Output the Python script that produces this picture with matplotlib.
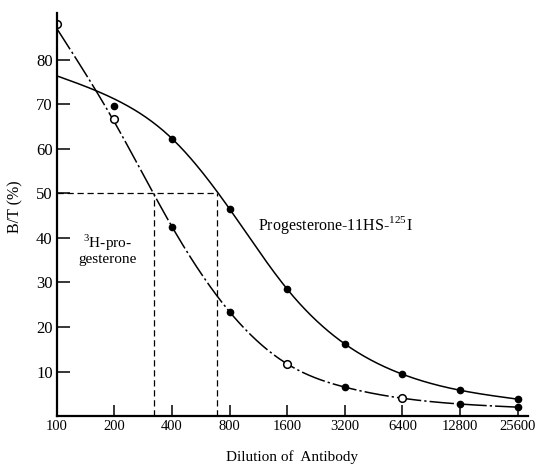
import numpy as np
import matplotlib
matplotlib.use("Agg")
import matplotlib.pyplot as plt

plt.rcParams['font.family'] = ['Liberation Serif', 'DejaVu Serif']
plt.rcParams['mathtext.fontset'] = 'custom'
plt.rcParams['mathtext.rm'] = 'Liberation Serif'

# ---- data ----
dilution = [100, 200, 400, 800, 1600, 3200, 6400, 12800, 25600]
x_labels = ['100', '200', '400', '800', '1600', '3200', '6400', '12800', '25600']

# Progesterone-11HS-125I (solid curve, filled dots)
iod_x = [200, 400, 800, 1600, 3200, 6400, 12800, 25600]
iod_y = [69.7, 62.3, 46.5, 28.5, 16.2, 9.4, 5.8, 3.8]
iod_curve_x = [100, 200, 400, 800, 1600, 3200, 6400, 12800, 25600]
iod_curve_y = [76.4, 71.2, 62.3, 46.5, 28.5, 16.2, 9.4, 5.8, 3.8]

# 3H-progesterone (dash-dot curve)
tri_x = [100, 200, 400, 800, 1600, 3200, 6400, 12800, 25600]
tri_y = [88.0, 66.7, 42.5, 23.4, 11.7, 6.5, 4.0, 2.7, 2.0]
tri_open = [True, True, False, False, True, False, True, False, False]
tri_curve_y = [87.0, 66.0, 42.5, 23.4, 11.7, 6.5, 4.0, 2.7, 2.0]

half_x = [321, 685]
y_ticks = [10, 20, 30, 40, 50, 60, 70, 80]


def natural_spline(xk, yk, xs):
    xk = np.asarray(xk, float); yk = np.asarray(yk, float)
    n = len(xk); h = np.diff(xk)
    A = np.zeros((n, n)); b = np.zeros(n)
    A[0, 0] = 1; A[-1, -1] = 1
    for i in range(1, n - 1):
        A[i, i - 1] = h[i - 1]; A[i, i] = 2 * (h[i - 1] + h[i]); A[i, i + 1] = h[i]
        b[i] = 6 * ((yk[i + 1] - yk[i]) / h[i] - (yk[i] - yk[i - 1]) / h[i - 1])
    M = np.linalg.solve(A, b)
    idx = np.clip(np.searchsorted(xk, xs) - 1, 0, n - 2)
    x0 = xk[idx]; x1 = xk[idx + 1]; hh = h[idx]
    return (M[idx] * (x1 - xs)**3 / (6 * hh) + M[idx + 1] * (xs - x0)**3 / (6 * hh)
            + (yk[idx] / hh - M[idx] * hh / 6) * (x1 - xs)
            + (yk[idx + 1] / hh - M[idx + 1] * hh / 6) * (xs - x0))


fig = plt.figure(figsize=(5.42, 4.68), dpi=100)
ax = fig.add_axes([0.105, 0.111, 0.869, 0.861])
ax.set_xscale('log', base=2)

xs = np.linspace(0, 8, 400)
ax.plot(100 * 2**xs, natural_spline(np.log2(np.array(iod_curve_x) / 100), iod_curve_y, xs),
        color='black', lw=1.1)
ax.plot(100 * 2**xs, natural_spline(np.log2(np.array(tri_x) / 100), tri_curve_y, xs),
        color='black', lw=1.1, linestyle=(0, (16, 2, 1.5, 2)))

ax.plot(iod_x, iod_y, 'o', color='black', ms=4.5)
for x, y, op in zip(tri_x, tri_y, tri_open):
    if op:
        ax.plot(x, y, 'o', mfc='white', mec='black', ms=5.5, mew=1.1)
    else:
        ax.plot(x, y, 'o', color='black', ms=4.5)

# 50% lines
ax.plot([100, half_x[1]], [50, 50], color='black', lw=0.9, ls=(0, (5, 3)))
for hx in half_x:
    ax.plot([hx, hx], [0, 50], color='black', lw=0.9, ls=(0, (5, 3)))

ax.set_xlim(100, 100 * 2**8.18)
ax.set_ylim(0, 90.5)
ax.set_xticks(dilution)
ax.set_xticklabels(x_labels, fontsize=10.5)
ax.xaxis.set_minor_locator(matplotlib.ticker.NullLocator())
ax.set_yticks(y_ticks)
ax.set_yticklabels([str(v) for v in y_ticks], fontsize=12)
ax.tick_params(axis='both', direction='in', length=9, width=1.1, pad=3)
ax.tick_params(axis='x', length=8)

for s in ['top', 'right']:
    ax.spines[s].set_visible(False)
for s in ['left', 'bottom']:
    ax.spines[s].set_linewidth(1.6)

ax.set_ylabel('B/T (%)', fontsize=11.5)
ax.yaxis.set_label_coords(-0.072, 0.52)
ax.set_xlabel('Dilution of  Antibody', fontsize=11, labelpad=12)

ax.text(183, 37.5, '$^{3}$H-pro-\ngesterone', fontsize=11, ha='center', va='center',
        linespacing=1.0)
ax.text(1124, 43.0, 'Progesterone-11HS-$^{125}$I', fontsize=11.5, ha='left', va='center')

fig.savefig('out.png', dpi=100)
